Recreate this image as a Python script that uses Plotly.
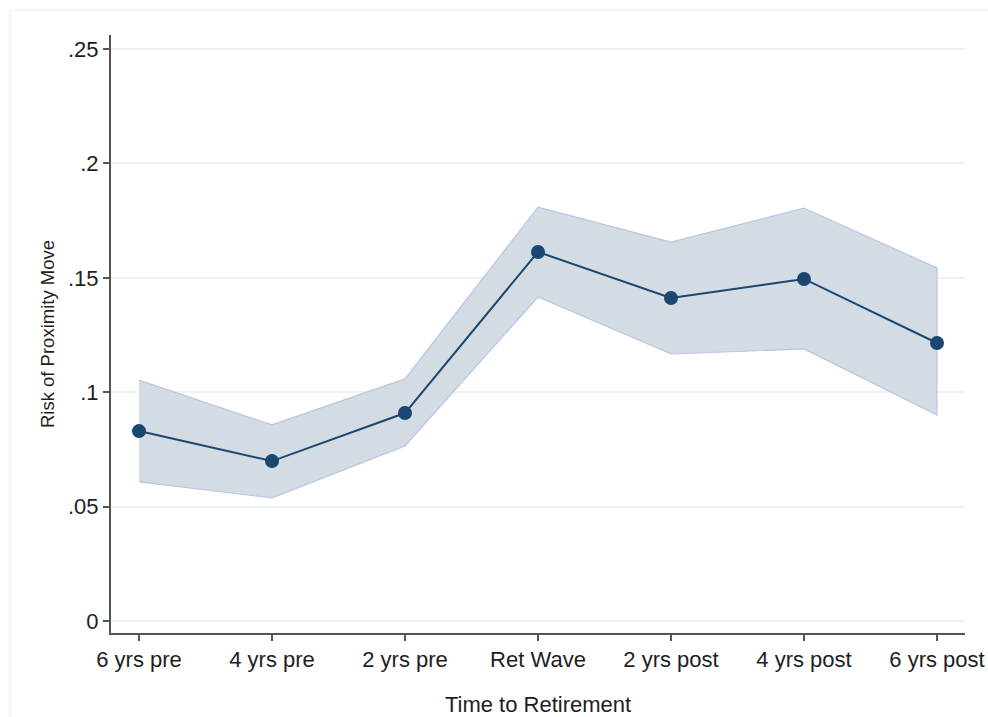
import plotly.graph_objects as go

# Predicted risk of a proximity move by time relative to retirement, with 95% CI
periods = ["6 yrs pre", "4 yrs pre", "2 yrs pre", "Ret Wave", "2 yrs post", "4 yrs post", "6 yrs post"]
risk = [0.0830, 0.0699, 0.0909, 0.1613, 0.1412, 0.1495, 0.1215]
ci_upper = [0.1053, 0.0857, 0.1058, 0.1809, 0.1656, 0.1805, 0.1543]
ci_lower = [0.0608, 0.0538, 0.0765, 0.1416, 0.1167, 0.1189, 0.0900]
y_ticks = [0, 0.05, 0.10, 0.15, 0.20, 0.25]
y_tick_text = ["0", ".05", ".1", ".15", ".2", ".25"]

xpos = list(range(len(periods)))

NAVY = "#1a476f"
BAND_FILL = "rgba(211,219,227,1)"
BAND_EDGE = "#bcc3ea"
FONT = "Liberation Sans, Arial, sans-serif"
TEXT = "#1e1e1e"

fig = go.Figure()

# confidence band as a closed polygon
fig.add_trace(go.Scatter(
    x=xpos + xpos[::-1],
    y=ci_upper + ci_lower[::-1],
    fill="toself",
    fillcolor=BAND_FILL,
    line=dict(color=BAND_EDGE, width=1.2),
    mode="lines",
    hoverinfo="skip",
    showlegend=False,
))

# point estimates
fig.add_trace(go.Scatter(
    x=xpos,
    y=risk,
    mode="lines+markers",
    line=dict(color=NAVY, width=2),
    marker=dict(color=NAVY, size=14),
    showlegend=False,
))

fig.update_layout(
    width=988,
    height=717,
    margin=dict(l=111, r=23, t=35, b=84, autoexpand=False),
    paper_bgcolor="white",
    plot_bgcolor="white",
    font=dict(family=FONT, color=TEXT),
    xaxis=dict(
        range=[-0.2105, 6.2105],
        automargin=False,
        tickmode="array",
        tickvals=xpos,
        ticktext=periods,
        ticks="outside",
        ticklen=6,
        tickwidth=1.5,
        tickcolor="#555555",
        tickfont=dict(size=22, family=FONT, color=TEXT),
        showline=True,
        linecolor="#555555",
        linewidth=2,
        showgrid=False,
        zeroline=False,
        title=dict(text="Time to Retirement", font=dict(size=22, family=FONT, color=TEXT), standoff=29),
    ),
    yaxis=dict(
        range=[-0.00524, 0.25612],
        automargin=False,
        tickmode="array",
        tickvals=y_ticks,
        ticktext=y_tick_text,
        ticks="outside",
        ticklen=6,
        tickwidth=1.5,
        tickcolor="#555555",
        tickfont=dict(size=22, family=FONT, color=TEXT),
        showline=True,
        linecolor="#555555",
        linewidth=2,
        showgrid=True,
        gridcolor="#eaf2f3",
        gridwidth=1.5,
        zeroline=False,
        title=dict(text="Risk of Proximity Move", font=dict(size=18.5, family=FONT, color=TEXT), standoff=9),
    ),
    shapes=[
        dict(
            type="rect", xref="paper", yref="paper",
            x0=(10 - 111) / 854, x1=1.2, y0=-0.3, y1=(633 - 10) / 598,
            line=dict(color="#f2f4f6", width=1.5),
            fillcolor="rgba(0,0,0,0)",
            layer="below",
        )
    ],
)

fig.write_html("out.html")
